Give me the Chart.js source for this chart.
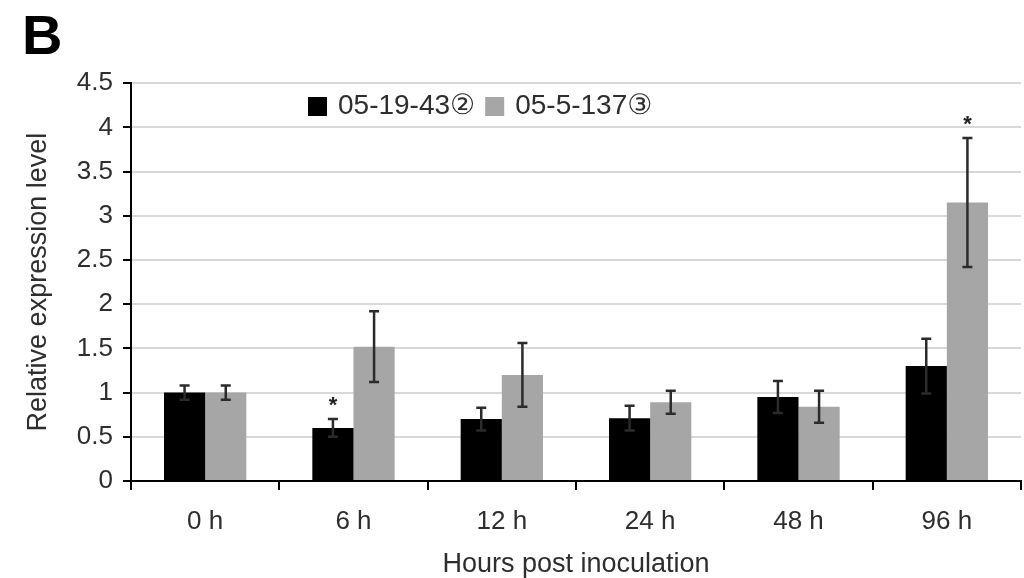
<!DOCTYPE html>
<html>
<head>
<meta charset="utf-8">
<script src="https://cdn.jsdelivr.net/npm/chart.js@4/dist/chart.umd.min.js"></script>
<style>
  html, body { margin: 0; padding: 0; background: #fff; }
  #wrap { width: 1024px; height: 578px; }
</style>
</head>
<body>
<div id="wrap"><canvas id="myChart" width="1024" height="578"></canvas></div>
<script>
const labels = ['0 h', '6 h', '12 h', '24 h', '48 h', '96 h'];
const line1 = [1.00, 0.60, 0.70, 0.71, 0.95, 1.30];
const err1 = [0.08, 0.10, 0.13, 0.14, 0.18, 0.31];
const star1 = [false, true, false, false, false, false];
const line2 = [1.00, 1.52, 1.20, 0.89, 0.84, 3.15];
const err2 = [0.08, 0.40, 0.36, 0.13, 0.18, 0.73];
const star2 = [false, false, false, false, false, true];
const yTicks = [0, 0.5, 1, 1.5, 2, 2.5, 3, 3.5, 4, 4.5];

const fontFam = '"Liberation Sans", Arial, "DejaVu Sans", sans-serif';
const txt = '#2e2e2e';

const ctx = document.getElementById('myChart');

// error bars + asterisks
const errorBars = {
  id: 'errorBars',
  afterDatasetsDraw(chart) {
    const c = chart.ctx;
    const y = chart.scales.y;
    chart.data.datasets.forEach((ds, i) => {
      const meta = chart.getDatasetMeta(i);
      meta.data.forEach((bar, j) => {
        const v = ds.data[j];
        const e = ds.errors[j];
        const top = y.getPixelForValue(v + e);
        const bot = y.getPixelForValue(v - e);
        c.save();
        c.strokeStyle = '#2b2b2b';
        c.lineWidth = 2.5;
        c.beginPath();
        c.moveTo(bar.x, top); c.lineTo(bar.x, bot);
        c.moveTo(bar.x - 5, top); c.lineTo(bar.x + 5, top);
        c.moveTo(bar.x - 5, bot); c.lineTo(bar.x + 5, bot);
        c.stroke();
        if (ds.stars[j]) {
          c.fillStyle = '#222';
          c.font = 'bold 22px ' + fontFam;
          c.textAlign = 'center';
          c.textBaseline = 'middle';
          c.fillText('*', bar.x, top - 13);
        }
        c.restore();
      });
    });
  }
};

// legend drawn inside the plot, like the original
const innerLegend = {
  id: 'innerLegend',
  afterDraw(chart) {
    const c = chart.ctx;
    let x = 308;
    const yMid = 106;
    c.save();
    c.font = '28px ' + fontFam;
    c.textBaseline = 'middle';
    c.textAlign = 'left';
    chart.data.datasets.forEach(ds => {
      c.fillStyle = ds.backgroundColor;
      c.fillRect(x, yMid - 9, 19, 19);
      x += 30;
      c.fillStyle = txt;
      c.fillText(ds.label, x, yMid);
      x += c.measureText(ds.label).width + 10;
    });
    c.restore();
  }
};

const chart = new Chart(ctx, {
  type: 'bar',
  data: {
    labels: labels,
    datasets: [
      { label: '05-19-43②', data: line1, errors: err1, stars: star1, backgroundColor: '#000000' },
      { label: '05-5-137③', data: line2, errors: err2, stars: star2, backgroundColor: '#a6a6a6' }
    ]
  },
  options: {
    responsive: false,
    animation: false,
    devicePixelRatio: 1,
    layout: { padding: { left: 22, top: 0, right: 3, bottom: 0 } },
    datasets: { bar: { categoryPercentage: 0.555, barPercentage: 1.0 } },
    plugins: {
      legend: { display: false },
      tooltip: { enabled: false },
      title: {
        display: true,
        text: 'B',
        align: 'start',
        color: '#000',
        font: { family: fontFam, size: 56, weight: 'bold' },
        padding: { top: 5, bottom: 11 }
      }
    },
    scales: {
      x: {
        grid: { display: true, drawOnChartArea: false, drawTicks: true, tickLength: 9, tickColor: '#000', lineWidth: 2 },
        border: { display: true, color: '#000', width: 2 },
        ticks: { color: txt, font: { family: fontFam, size: 26 }, padding: 16 },
        title: { display: true, text: 'Hours post inoculation', color: txt, font: { family: fontFam, size: 27, lineHeight: 1.0 }, padding: { top: 0, bottom: 0 } },
        afterFit(scale) { scale.height = 97; }
      },
      y: {
        min: 0,
        max: 4.5,
        afterBuildTicks(scale) { scale.ticks = yTicks.map(v => ({ value: v })); },
        grid: { color: '#d9d9d9', lineWidth: 2, tickColor: '#000', tickLength: 8 },
        border: { display: true, color: '#000', width: 2 },
        ticks: { color: txt, font: { family: fontFam, size: 26 }, padding: 10, callback: v => String(v) },
        title: { display: true, text: 'Relative expression level', color: txt, font: { family: fontFam, size: 27 }, padding: { top: 0, bottom: 0 } },
        afterFit(scale) { scale.width = 109; }
      }
    }
  },
  plugins: [errorBars, innerLegend]
});
</script>
</body>
</html>
